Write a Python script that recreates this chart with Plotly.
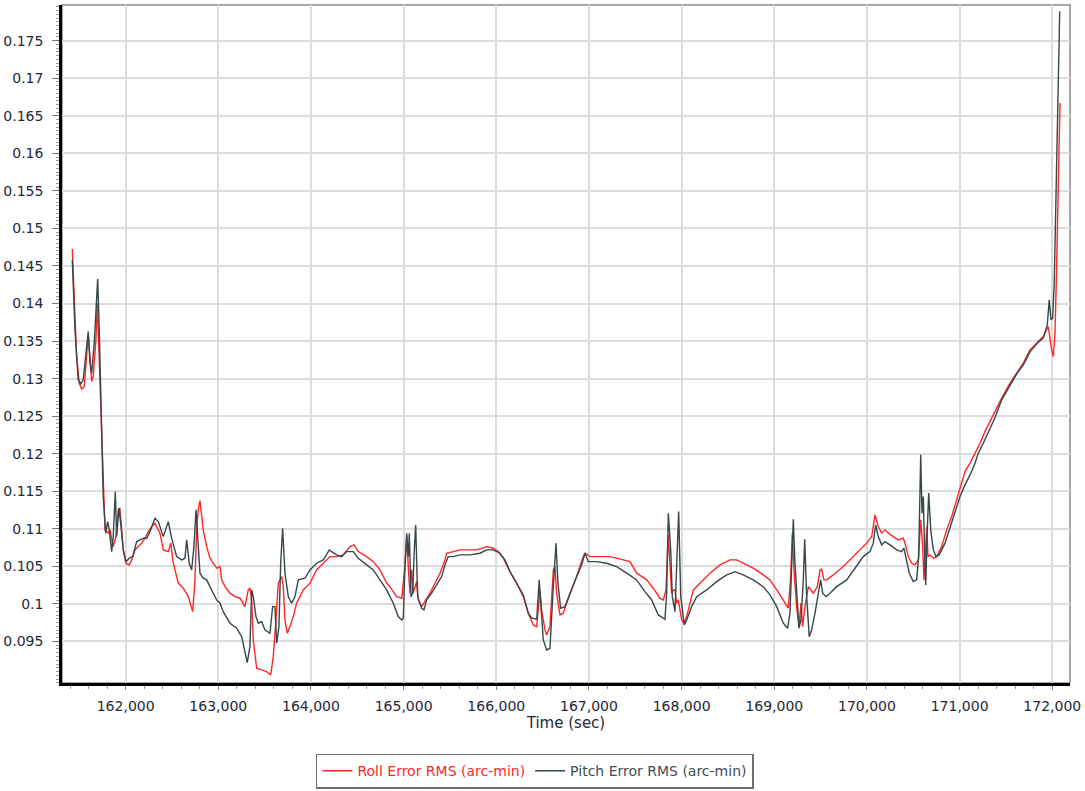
import plotly.graph_objects as go

# ---------------- data ----------------
roll_t = [161424,161471,161499,161525,161553,161579,161596,161615,161633,161650,161679,161694,161715,161741,161758,161777,161795,161812,161831,161849,
          161866,161895,161920,161938,161957,161974,162003,162039,162065,162100,162136,162173,162208,162244,162281,162316,162370,162406,162460,162486,
          162514,162568,162622,162676,162723,162748,162766,162783,162802,162820,162837,162874,162910,162945,162982,163018,163036,163072,163126,163180,
          163234,163287,163323,163341,163360,163377,163414,163468,163522,163565,163593,163622,163647,163684,163701,163719,163744,163773,163809,163845,
          163917,163989,164061,164133,164205,164277,164348,164421,164464,164510,164601,164672,164744,164817,164852,164925,164979,165014,165033,165050,
          165068,165087,165104,165140,165158,165194,165230,165284,165338,165392,165446,165464,165535,165608,165680,165788,165896,165967,166021,166075,
          166147,166220,166291,166345,166399,166436,166471,166489,166525,166543,166579,166615,166633,166651,166687,166723,166795,166867,166938,166957,
          167011,167083,167154,167226,167299,167370,167442,167515,167623,167694,167766,167802,167831,167856,167874,167892,167910,167928,167946,167964,
          168000,168025,168054,168090,168126,168198,168306,168414,168522,168594,168665,168773,168881,168953,169026,169097,169151,169177,169194,169212,
          169241,169266,169288,169306,169331,169367,169421,169464,169493,169511,169536,169565,169637,169744,169852,169997,170051,170087,170122,170159,
          170194,170230,170284,170338,170392,170410,170446,170483,170518,170554,170580,170601,170615,170629,170645,170658,170680,170716,170752,170806,
          170860,170914,170968,171022,171058,171112,171166,171220,171273,171360,171454,171543,171616,171687,171759,171832,171903,171957,171975,171993,
          172011,172029,172047,172065,172083]
roll_v = [0.14725,0.13294,0.12940,0.12860,0.12894,0.13294,0.13583,0.13294,0.12961,0.13028,0.13516,0.14005,0.13206,0.12318,0.11429,0.10986,0.10963,0.10942,0.10986,0.10852,
          0.10763,0.10896,0.11252,0.11275,0.10986,0.10719,0.10542,0.10519,0.10586,0.10719,0.10763,0.10809,0.10875,0.10963,0.11030,0.11075,0.10942,0.10719,0.10697,0.10809,
          0.10542,0.10276,0.10209,0.10097,0.09897,0.10320,0.10986,0.11252,0.11376,0.11208,0.10986,0.10763,0.10609,0.10542,0.10476,0.10497,0.10320,0.10230,0.10143,0.10097,
          0.10076,0.09964,0.10186,0.10209,0.10053,0.09520,0.09144,0.09121,0.09098,0.09054,0.09298,0.09787,0.10276,0.10364,0.10230,0.09787,0.09610,0.09698,0.09831,0.10010,
          0.10186,0.10276,0.10453,0.10542,0.10630,0.10630,0.10653,0.10763,0.10786,0.10697,0.10630,0.10563,0.10453,0.10276,0.10230,0.10097,0.10076,0.10497,0.10896,0.10497,
          0.10143,0.10453,0.10143,0.10297,0.10053,0.09964,0.10030,0.10143,0.10276,0.10409,0.10586,0.10675,0.10697,0.10719,0.10719,0.10719,0.10763,0.10742,0.10697,0.10609,
          0.10430,0.10276,0.10097,0.09876,0.09720,0.09698,0.10186,0.09920,0.09654,0.09587,0.09698,0.10453,0.10497,0.10143,0.09853,0.09876,0.10143,0.10364,0.10630,0.10675,
          0.10630,0.10630,0.10630,0.10630,0.10609,0.10586,0.10563,0.10409,0.10320,0.10209,0.10076,0.10053,0.10186,0.10919,0.10497,0.10143,0.10186,0.10186,0.10010,0.10053,
          0.09787,0.09743,0.09831,0.10010,0.10186,0.10276,0.10409,0.10520,0.10586,0.10586,0.10542,0.10476,0.10386,0.10320,0.10186,0.10053,0.09943,0.10364,0.10942,0.10453,
          0.09964,0.09698,0.10010,0.09698,0.09964,0.10230,0.10143,0.10230,0.10453,0.10462,0.10320,0.10320,0.10386,0.10497,0.10630,0.10809,0.10896,0.11185,0.11030,0.10942,
          0.10986,0.10942,0.10896,0.10852,0.10875,0.10809,0.10630,0.10542,0.10519,0.10586,0.11119,0.10763,0.10320,0.10763,0.11030,0.10630,0.10653,0.10609,0.10630,0.10763,
          0.10986,0.11163,0.11385,0.11585,0.11762,0.11874,0.12007,0.12140,0.12295,0.12517,0.12740,0.12940,0.13073,0.13206,0.13383,0.13473,0.13560,0.13694,0.13516,0.13383,
          0.13294,0.13606,0.14493,0.15604,0.16669]

pitch_t = [161424,161453,161488,161514,161542,161579,161596,161615,161633,161661,161698,161715,161741,161758,161784,161806,161823,161849,161866,161888,
           161903,161928,161946,161974,162003,162039,162076,162119,162154,162190,162227,162262,162316,162352,162406,162460,162496,162550,162604,162640,
           162658,162686,162712,162737,162759,162783,162802,162837,162874,162910,162945,162982,163018,163053,163126,163198,163252,163287,163312,163341,
           163360,163377,163406,163431,163468,163503,163557,163586,163611,163630,163654,163673,163694,163719,163755,163791,163827,163863,163935,163989,
           164061,164133,164197,164223,164277,164331,164385,164456,164510,164601,164672,164744,164817,164888,164942,164979,164996,165014,165033,165050,
           165061,165079,165097,165115,165130,165151,165194,165219,165248,165302,165356,165410,165446,165481,165535,165608,165716,165824,165896,165967,
           166039,166093,166147,166220,166291,166345,166382,166436,166463,166482,166507,166543,166579,166615,166644,166665,166694,166741,166795,166867,
           166921,166957,166992,167083,167191,167299,167407,167515,167604,167677,167748,167802,167820,167838,167856,167882,167899,167928,167946,167968,
           167990,168028,168054,168108,168162,168270,168378,168486,168576,168665,168773,168881,168953,169026,169097,169144,169169,169191,169205,169223,
           169241,169266,169288,169313,169328,169349,169377,169403,169439,169475,169500,169522,169558,169601,169673,169781,169889,169960,170032,170068,
           170094,170122,170159,170194,170248,170321,170374,170399,170421,170457,170500,170536,170558,170580,170594,170608,170623,170634,170651,170666,
           170688,170716,170745,170780,170842,170896,170950,171004,171058,171112,171166,171201,171255,171309,171381,171454,171543,171616,171687,171759,
           171832,171903,171946,171967,171986,172004,172021,172040,172058,172080]
pitch_v = [0.14582,0.13650,0.12984,0.12930,0.12984,0.13427,0.13627,0.13206,0.13073,0.13473,0.14325,0.13650,0.12318,0.11429,0.10942,0.11096,0.10986,0.10697,0.10896,0.11496,
           0.10896,0.11275,0.11075,0.10719,0.10563,0.10609,0.10630,0.10830,0.10852,0.10875,0.10875,0.10963,0.11142,0.11096,0.10896,0.11096,0.10875,0.10630,0.10586,0.10609,
           0.10852,0.10542,0.10453,0.10763,0.11252,0.10763,0.10409,0.10342,0.10320,0.10230,0.10143,0.10053,0.10010,0.09897,0.09743,0.09676,0.09564,0.09343,0.09218,0.09431,
           0.10186,0.10097,0.09831,0.09743,0.09764,0.09654,0.09610,0.09964,0.09964,0.09477,0.09698,0.10542,0.11008,0.10409,0.10097,0.10010,0.10097,0.10320,0.10342,0.10453,
           0.10542,0.10586,0.10719,0.10697,0.10653,0.10630,0.10697,0.10697,0.10609,0.10520,0.10453,0.10320,0.10186,0.10010,0.09831,0.09787,0.09809,0.10497,0.10942,0.10630,
           0.10942,0.10097,0.10143,0.10719,0.11052,0.10097,0.09943,0.09920,0.10053,0.10143,0.10253,0.10364,0.10520,0.10630,0.10630,0.10653,0.10653,0.10675,0.10719,0.10719,
           0.10675,0.10586,0.10430,0.10276,0.10120,0.09876,0.09810,0.09796,0.10320,0.09964,0.09520,0.09387,0.09410,0.10230,0.10809,0.10276,0.09943,0.09964,0.10143,0.10364,
           0.10520,0.10675,0.10563,0.10563,0.10542,0.10497,0.10409,0.10320,0.10164,0.10053,0.09853,0.09810,0.09796,0.10143,0.11208,0.10719,0.10097,0.09897,0.10497,0.11230,
           0.10097,0.09720,0.09787,0.09964,0.10097,0.10186,0.10297,0.10386,0.10430,0.10386,0.10320,0.10230,0.10120,0.09964,0.09743,0.09676,0.09876,0.10763,0.11128,0.10542,
           0.10097,0.09676,0.09787,0.10320,0.10862,0.10097,0.09564,0.09654,0.09876,0.10143,0.10320,0.10143,0.10097,0.10143,0.10230,0.10320,0.10506,0.10630,0.10697,0.10809,
           0.11052,0.10896,0.10786,0.10830,0.10786,0.10719,0.10697,0.10742,0.10609,0.10409,0.10297,0.10320,0.10630,0.11985,0.11208,0.11429,0.10630,0.10253,0.10986,0.11475,
           0.10986,0.10719,0.10630,0.10653,0.10809,0.11008,0.11208,0.11429,0.11585,0.11718,0.11874,0.12007,0.12140,0.12295,0.12478,0.12717,0.12917,0.13064,0.13183,0.13357,
           0.13463,0.13543,0.13716,0.14049,0.13783,0.13806,0.14272,0.15381,0.16491,0.17890]

roll_name = "Roll Error RMS (arc-min)"
pitch_name = "Pitch Error RMS (arc-min)"
x_title = "Time (sec)"
x_ticks = [162000, 163000, 164000, 165000, 166000, 167000, 168000, 169000, 170000, 171000, 172000]
y_ticks = [0.095, 0.1, 0.105, 0.11, 0.115, 0.12, 0.125, 0.13, 0.135, 0.14, 0.145,
           0.15, 0.155, 0.16, 0.165, 0.17, 0.175]

# ---------------- styling ----------------
ROLL_COLOR = "#ff2626"
PITCH_COLOR = "#34484c"
TEXT_COLOR = "#1e2838"
FONT = "DejaVu Sans, Verdana, sans-serif"

fig = go.Figure()
fig.add_trace(go.Scatter(
    x=roll_t, y=roll_v, mode="lines",
    name=f"<span style='color:{ROLL_COLOR}'>{roll_name}</span>",
    line=dict(color=ROLL_COLOR, width=1.4),
))
fig.add_trace(go.Scatter(
    x=pitch_t, y=pitch_v, mode="lines",
    name=f"<span style='color:#3e4d55'>{pitch_name}</span>",
    line=dict(color=PITCH_COLOR, width=1.4),
))

fig.update_layout(
    width=1085, height=791,
    margin=dict(l=62, r=15, t=5, b=108, autoexpand=False),
    paper_bgcolor="white", plot_bgcolor="white",
    font=dict(family=FONT, size=14, color=TEXT_COLOR),
    showlegend=True,
    legend=dict(
        orientation="h",
        xref="container", x=0.493, xanchor="center",
        yref="container", y=0.003, yanchor="bottom",
        bordercolor="#707070", borderwidth=1.5, bgcolor="white",
        font=dict(family=FONT, size=14), itemwidth=30,
        tracegroupgap=0,
    ),
    shapes=[dict(type="rect", xref="paper", yref="paper", x0=0, y0=0, x1=1, y1=1,
                 line=dict(color="#8a8a8a", width=1.5), layer="below")],
)

fig.update_xaxes(
    range=[161313, 172191],
    tickvals=x_ticks, tickformat=",d",
    showgrid=True, gridcolor="#dcdcdc", gridwidth=2,
    zeroline=False,
    showline=True, linecolor="black", linewidth=2.5,
    ticks="outside", ticklen=4, tickcolor="#888888", tickwidth=1,
    ticklabelstandoff=4,
    minor=dict(dtick=200, ticks="outside", ticklen=3, tickcolor="#999999", showgrid=False),
    tickfont=dict(size=14, color=TEXT_COLOR),
    title=dict(text=x_title, font=dict(size=15, color=TEXT_COLOR), standoff=2),
)
fig.update_yaxes(
    range=[0.08947, 0.17975],
    tickvals=y_ticks,
    showgrid=True, gridcolor="#dcdcdc", gridwidth=2,
    zeroline=False,
    showline=True, linecolor="black", linewidth=2.5,
    ticks="outside", ticklen=7, tickcolor="#777777", tickwidth=1,
    ticklabelstandoff=6,
    minor=dict(dtick=0.0005, tick0=0.095, ticks="outside", ticklen=3, tickcolor="#999999", showgrid=False),
    tickfont=dict(size=14, color=TEXT_COLOR),
)

fig.write_html(
    "out.html",
    config={"displayModeBar": False},
    post_script="document.body.style.margin='0px';document.body.style.overflow='hidden';",
)
